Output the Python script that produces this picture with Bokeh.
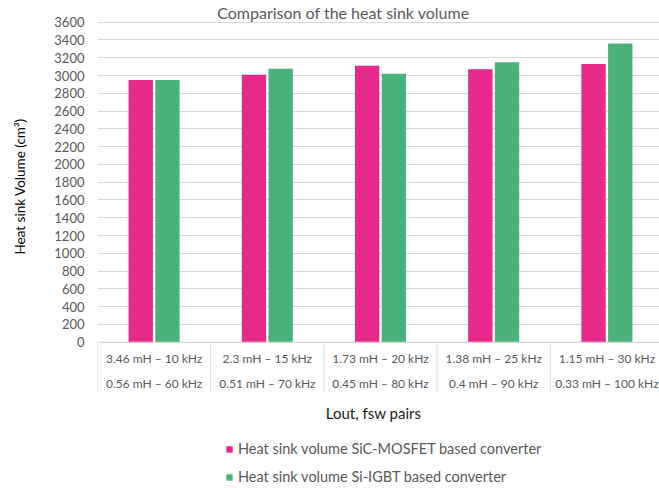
import math
from bokeh.plotting import figure
from bokeh.layouts import row
from bokeh.models import FixedTicker, Range1d, Legend, LegendItem, ColumnDataSource
from bokeh.core.properties import value
from bokeh.embed import file_html
from bokeh.resources import INLINE

# ---- data ----
line1 = ["3.46 mH \u2013 10 kHz", "2.3 mH \u2013 15 kHz", "1.73 mH \u2013 20 kHz",
         "1.38 mH \u2013 25 kHz", "1.15 mH \u2013 30 kHz"]
line2 = ["0.56 mH \u2013 60 kHz", "0.51 mH \u2013 70 kHz", "0.45 mH \u2013 80 kHz",
         "0.4 mH \u2013 90 kHz", "0.33 mH \u2013 100 kHz"]
sic_mosfet = [2950, 3010, 3110, 3070, 3130]
si_igbt = [2950, 3075, 3020, 3150, 3360]
y_ticks = list(range(0, 3601, 200))
series_names = ["Heat sink volume SiC-MOSFET based converter",
                "Heat sink volume Si-IGBT based converter"]
title_text = "Comparison of the heat sink volume"
y_title = "Heat sink Volume (cm\u00b3)"
x_title = "Lout, fsw pairs"

PINK = "#E7298A"
GREEN = "#4CB27B"
GRID = "#D9D9D9"
TXT = "#595959"
FONT = "Lato"

H = 488
LW = 30            # narrow strip holding the vertical axis title
W = 659 - LW
LEFT = 97 - LW
cat_px = 113.2
frame_w = W - LEFT
n = len(line1)

# ---- strip with the y-axis title ----
q = figure(width=LW, height=H, output_backend="svg", toolbar_location=None,
           min_border_left=0, min_border_right=0, min_border_top=0, min_border_bottom=0,
           x_range=Range1d(0, LW), y_range=Range1d(0, H))
q.axis.visible = False
q.grid.visible = False
q.outline_line_color = None
q.text(x=[19], y=[H - 186], text=[y_title], angle=math.pi / 2, text_align="center",
       text_baseline="middle", text_font=value(FONT), text_font_size="13.5px",
       text_color="#000000")

# ---- main chart ----
p = figure(width=W, height=H, output_backend="svg", toolbar_location=None,
           min_border_left=LEFT, min_border_right=0, min_border_top=0,
           min_border_bottom=0,
           x_range=Range1d(0, frame_w / cat_px), y_range=Range1d(-1646, 3844))
p.outline_line_color = None
p.background_fill_color = "white"
p.border_fill_color = "white"

p.xgrid.grid_line_color = None
p.ygrid.grid_line_color = GRID
p.ygrid.grid_line_width = 1

p.yaxis.ticker = FixedTicker(ticks=y_ticks)
p.yaxis.axis_line_color = None
p.yaxis.major_tick_line_color = None
p.yaxis.minor_tick_line_color = None
p.yaxis.major_tick_out = 0
p.yaxis.major_tick_in = 0
p.yaxis.major_label_text_font = FONT
p.yaxis.major_label_text_font_size = "13px"
p.yaxis.major_label_text_color = TXT
p.yaxis.major_label_standoff = 13

p.xaxis.visible = False

# bars
xc = [i + 0.5 for i in range(n)]
off = 0.118
bw = 0.215
src = ColumnDataSource(dict(xp=[x - off for x in xc], xg=[x + off for x in xc],
                            a=sic_mosfet, b=si_igbt))
r1 = p.vbar(x="xp", top="a", bottom=0, width=bw, source=src, fill_color=PINK, line_color=None)
r2 = p.vbar(x="xg", top="b", bottom=0, width=bw, source=src, fill_color=GREEN, line_color=None)

# zero line and category separators
p.segment(x0=[0], y0=[0], x1=[frame_w / cat_px], y1=[0], line_color=GRID, line_width=1)
p.segment(x0=list(range(n + 1)), y0=[0] * (n + 1), x1=list(range(n + 1)),
          y1=[-566] * (n + 1), line_color=GRID, line_width=1)

# category labels
p.text(x=xc, y=[-189] * n, text=line1, text_align="center", text_baseline="middle",
       text_font=value(FONT), text_font_size="12px", text_color=TXT)
p.text(x=xc, y=[-465] * n, text=line2, text_align="center", text_baseline="middle",
       text_font=value(FONT), text_font_size="12px", text_color=TXT)

# chart title
p.text(x=[(343 - 97) / cat_px], y=[3709], text=[title_text], text_align="center",
       text_baseline="middle", text_font=value(FONT), text_font_size="16px",
       text_color=TXT)

# x axis title
p.text(x=[(373 - 97) / cat_px], y=[-800], text=[x_title], text_align="center",
       text_baseline="middle", text_font=value(FONT), text_font_size="15px",
       text_color="#1a1a1a")

legend = Legend(items=[LegendItem(label=series_names[0], renderers=[r1]),
                       LegendItem(label=series_names[1], renderers=[r2])],
                orientation="vertical", location=(128, 3))
legend.glyph_width = 8
legend.glyph_height = 8
legend.label_standoff = 5
legend.label_text_font = FONT
legend.label_text_font_size = "14.5px"
legend.label_text_color = TXT
legend.label_height = 16
legend.spacing = 11
legend.padding = 0
legend.margin = 0
legend.border_line_color = None
legend.background_fill_alpha = 0
p.add_layout(legend)

layout = row(q, p, spacing=0)
open("out.html", "w").write(file_html(layout, INLINE))
